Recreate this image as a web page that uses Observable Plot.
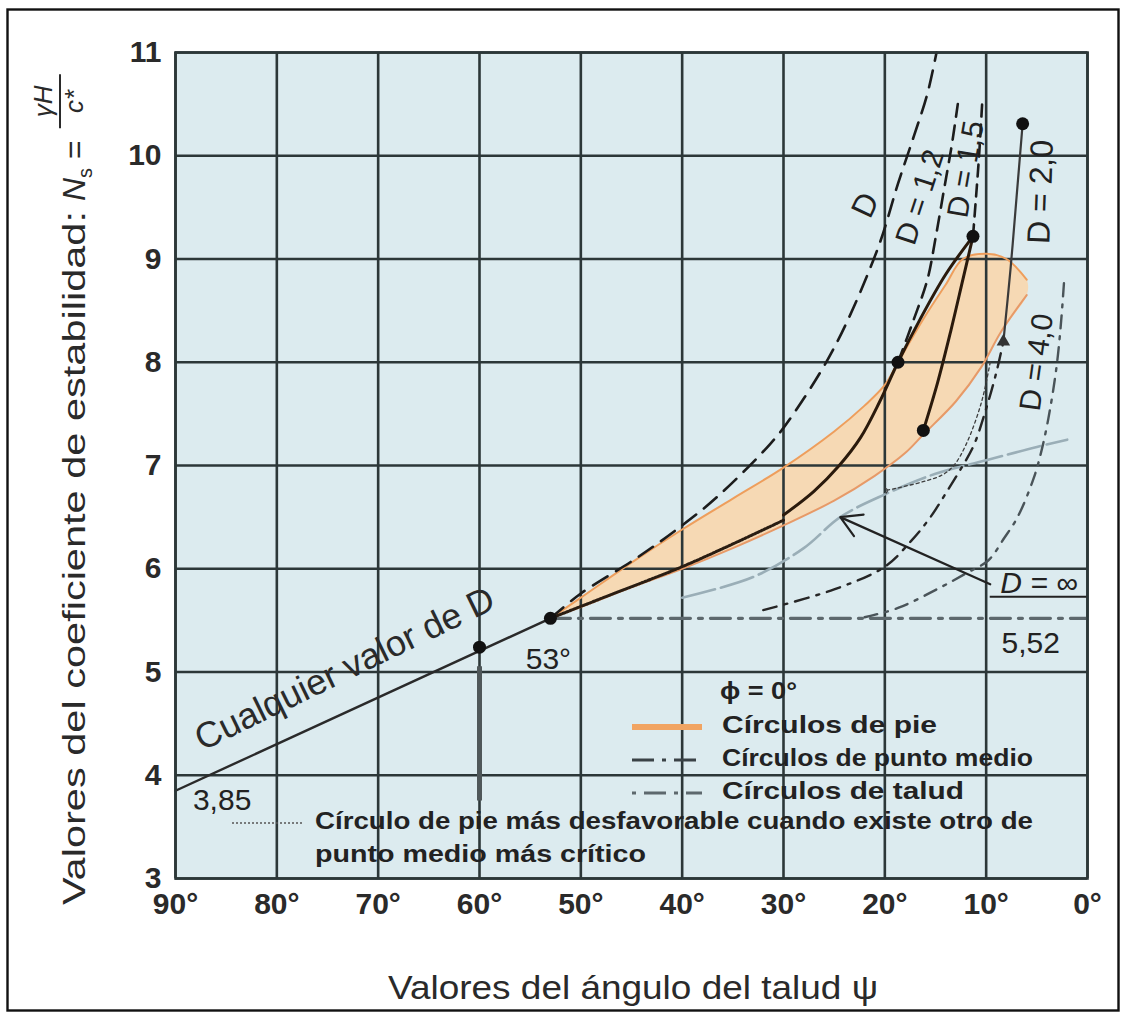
<!DOCTYPE html>
<html>
<head>
<meta charset="utf-8">
<script src="https://cdn.jsdelivr.net/npm/d3@7"></script>
<script src="https://cdn.jsdelivr.net/npm/@observablehq/plot@0.6"></script>
<style>
  body { margin: 0; background: #fff; }
  #chart { width: 1126px; height: 1015px; }
  svg text { font-family: "Liberation Sans", Arial, sans-serif; }
</style>
</head>
<body>
<div id="chart"></div>
<script>
// Taylor stability chart, phi = 0: stability number Ns against slope angle psi.
const xTicks = [90, 80, 70, 60, 50, 40, 30, 20, 10, 0];
const yTicks = [3, 4, 5, 6, 7, 8, 9, 10, 11];

// [slope angle (deg), Ns]
const anyDepth = [[90, 3.85], [53, 5.52]];
const toeUpper = [[53, 5.52], [50, 5.72], [45, 6.06], [40, 6.38], [35, 6.68], [30, 6.98], [25, 7.33], [22, 7.58], [20, 7.78], [18.7, 8.0], [16, 8.45], [14, 8.75], [12.3, 9.0], [10, 9.05], [8, 9.0], [6, 8.8]];
const toeLower = [[53, 5.52], [50, 5.63], [45, 5.82], [40, 6.0], [35, 6.2], [30, 6.42], [25, 6.66], [21, 6.9], [18, 7.12], [16.2, 7.3], [13, 7.62], [10.5, 7.95], [8.5, 8.3], [6, 8.65]];
const worstToe = [[53, 5.52], [47, 5.75], [40, 6.02], [35, 6.24], [30, 6.47]];
const toeArcA = [[30, 6.52], [27, 6.75], [24.5, 7.0], [22.4, 7.27], [20.5, 7.62], [18.7, 8.0], [16.5, 8.42], [14, 8.85], [11.3, 9.22]];
const toeArcB = [[16.2, 7.34], [14.8, 7.8], [13.5, 8.3], [12.3, 8.8], [11.3, 9.22]];
const slopeD10 = [[53, 5.52], [50, 5.76], [44.4, 6.11], [40, 6.42], [36.5, 6.7], [31.3, 7.21], [29.3, 7.46], [25, 8.14], [20.7, 9.1], [18.7, 9.73], [17.1, 10.2], [15.8, 10.6], [14.9, 11.0]];
const slopeD12 = [[18.7, 8.0], [17.2, 8.4], [15.8, 8.8], [15, 9.2], [14.2, 9.65], [13.4, 10.1], [12.8, 10.5]];
const slopeD15 = [[11.3, 9.22], [11.0, 9.6], [10.7, 10.0], [10.4, 10.5]];
const toeD20 = [[8.3, 8.2], [7.6, 8.9], [7.0, 9.6], [6.4, 10.31]];
const midD20 = [[32, 5.6], [25, 5.8], [20, 6.02], [17.4, 6.27], [15.5, 6.5], [13.8, 6.76], [12.3, 7.0], [11.2, 7.2], [10, 7.55], [9.0, 7.9], [8.3, 8.2]];
const midD40 = [[22, 5.53], [18.7, 5.62], [14.5, 5.82], [11.9, 5.96], [9.8, 6.08], [8.2, 6.3], [6.9, 6.5], [5.3, 6.88], [4.4, 7.2], [3.6, 7.6], [3.0, 8.0], [2.6, 8.4], [2.3, 8.8]];
const baseInf = [[53, 5.52], [0, 5.52]];
const slopeInf = [[40, 5.72], [33, 5.92], [28, 6.2], [24.4, 6.5], [20, 6.72], [15, 6.92], [10, 7.05], [5, 7.18], [2, 7.25]];
const worstToeLink = [[19.8, 6.76], [14.5, 6.9], [13.2, 7.0], [12, 7.2], [10.5, 7.6], [9.6, 8.0]];
const keyPoints = [[60, 5.24], [53, 5.52], [18.7, 8.0], [16.2, 7.34], [11.3, 9.22], [6.4, 10.31]];

const pts = (a) => a.map(([b, ns]) => ({b, ns}));
const toeBand = pts([...toeUpper, ...toeLower.slice().reverse()]);

const BG = "#dcebef";
const GRID = "#2c3738";
const INK = "#1c1c1c";
const FONT = "Liberation Sans, Arial, sans-serif";

const xy = {x: "b", y: "ns"};
const smooth = {...xy, curve: "catmull-rom"};

const plot = Plot.plot({
  width: 1126,
  height: 1015,
  marginLeft: 175,
  marginRight: 39,
  marginTop: 52,
  marginBottom: 137,
  x: {domain: [90, 0], label: null},
  y: {domain: [3, 11], label: null},
  style: {fontFamily: FONT, background: "transparent", overflow: "visible"},
  marks: [
    Plot.frame({fill: BG}),
    // toe-circle zone
    Plot.line(toeBand, {...xy, fill: "#f6d9b4", stroke: null, curve: "catmull-rom-closed"}),
    Plot.ruleX(xTicks, {stroke: GRID, strokeWidth: 2.6}),
    Plot.ruleY(yTicks, {stroke: GRID, strokeWidth: 2.6}),
    Plot.ruleX([60], {y1: 3.75, y2: 5.05, stroke: "#4f5759", strokeWidth: 5}),
    Plot.line(pts(toeUpper), {...smooth, stroke: "#ee9e5c", strokeWidth: 2}),
    Plot.line(pts(toeLower), {...smooth, stroke: "#e79a68", strokeWidth: 2}),
    // slope, midpoint and base curves
    Plot.line(pts(baseInf), {...xy, stroke: "#5d686d", strokeWidth: 3.2, strokeDasharray: "20,8,4,8"}),
    Plot.line(pts(slopeInf), {...smooth, stroke: "#9aaeb7", strokeWidth: 2.6, strokeDasharray: "34,6"}),
    Plot.line(pts(midD40), {...smooth, stroke: "#4a5459", strokeWidth: 2.4, strokeDasharray: "13,8,3,8"}),
    Plot.line(pts(midD20), {...smooth, stroke: "#262626", strokeWidth: 2.4, strokeDasharray: "14,8,3,8"}),
    Plot.line(pts(slopeD10), {...smooth, stroke: INK, strokeWidth: 2.6, strokeDasharray: "17,10"}),
    Plot.line(pts(slopeD12), {...smooth, stroke: INK, strokeWidth: 2.6, strokeDasharray: "14,9"}),
    Plot.line(pts(slopeD15), {...smooth, stroke: INK, strokeWidth: 2.6, strokeDasharray: "12,8"}),
    Plot.line(pts(worstToeLink), {...smooth, stroke: "#3d3d3d", strokeWidth: 1.3, strokeDasharray: "3,3", markerStart: "arrow"}),
    // toe circles
    Plot.line(pts(worstToe), {...smooth, stroke: "#2a1d12", strokeWidth: 3, strokeDasharray: "2,1.5"}),
    Plot.line(pts(toeArcA), {...smooth, stroke: "#2a1a0c", strokeWidth: 3}),
    Plot.line(pts(toeArcB), {...smooth, stroke: "#2a1a0c", strokeWidth: 3}),
    Plot.line(pts(toeD20), {...smooth, stroke: "#3a3a3a", strokeWidth: 2.2}),
    Plot.dot([{b: 8.3, ns: 8.2}], {...xy, symbol: "triangle", r: 5, fill: "#333"}),
    // any depth factor
    Plot.line(pts(anyDepth), {...xy, stroke: "#2a2a2a", strokeWidth: 2.4}),
    Plot.dot(pts(keyPoints), {...xy, r: 6.5, fill: "#111"}),
    Plot.arrow([0], {x1: 9.6, y1: 5.85, x2: 24.4, y2: 6.5, stroke: "#222", strokeWidth: 2.2, headLength: 16}),
    Plot.ruleY([5.73], {x1: 9.6, x2: 0, stroke: "#222", strokeWidth: 2}),
    // annotations
    Plot.text(["Cualquier valor de D"], {x: 73.3, y: 5.03, text: (d) => d, rotate: -26, fontSize: 36, fill: "#2a2a2a"}),
    Plot.text(["53°"], {x: 53.2, y: 5.12, text: (d) => d, fontSize: 30, fill: "#222"}),
    Plot.text(["3,85"], {x: 85.4, y: 3.76, text: (d) => d, fontSize: 30, fill: "#222"}),
    Plot.text(["5,52"], {x: 5.6, y: 5.28, text: (d) => d, fontSize: 30, fill: "#222"}),
    Plot.text(["D = ∞"], {x: 4.8, y: 5.86, text: (d) => d, fontSize: 30, fontStyle: "italic", fill: "#222"}),
    Plot.text(["D"], {x: 21.9, y: 9.52, text: (d) => d, rotate: -65, fontSize: 32, fill: "#222"}),
    Plot.text(["D = 1,2"], {x: 16.5, y: 9.6, text: (d) => d, rotate: -72, fontSize: 30, fill: "#222"}),
    Plot.text(["D = 1,5"], {x: 12, y: 9.87, text: (d) => d, rotate: -80, fontSize: 30, fill: "#222"}),
    Plot.text(["D = 2,0"], {x: 4.6, y: 9.65, text: (d) => d, rotate: -88, fontSize: 32, fill: "#222"}),
    Plot.text(["D = 4,0"], {x: 5.0, y: 8.0, text: (d) => d, rotate: -82, fontSize: 30, fill: "#222"}),
    Plot.frame({stroke: GRID, strokeWidth: 2.6}),
    Plot.axisX(xTicks, {tickSize: 0, tickPadding: 14, tickFormat: (d) => `${d}°`, fontSize: 30, fontWeight: "bold", fill: "#2a2a2a", label: null}),
    Plot.axisY(yTicks, {tickSize: 0, tickPadding: 14, tickFormat: (d) => String(d), fontSize: 30, fontWeight: "bold", fill: "#2a2a2a", label: null})
  ]
});

document.getElementById("chart").appendChild(plot);

// Axis titles, legend and outer border
const svg = d3.select(plot);

svg.append("rect")
  .attr("x", 7.5).attr("y", 9.5).attr("width", 1111).attr("height", 1001)
  .attr("fill", "none").attr("stroke", "#111").attr("stroke-width", 2.4);

svg.append("text")
  .attr("x", 388).attr("y", 990)
  .attr("text-anchor", "start").attr("dominant-baseline", "middle")
  .attr("font-size", 34).attr("fill", "#2a2a2a")
  .attr("textLength", 490).attr("lengthAdjust", "spacingAndGlyphs")
  .text("Valores del ángulo del talud ψ");

const yTitle = svg.append("g").attr("transform", "translate(85,905) rotate(-90)")
  .attr("fill", "#2a2a2a").attr("text-anchor", "start");
const mainLen = 694;
yTitle.append("text").attr("x", 0).attr("y", 0).attr("font-size", 32)
  .attr("textLength", mainLen).attr("lengthAdjust", "spacingAndGlyphs")
  .text("Valores del coeficiente de estabilidad:");
const ns = yTitle.append("text").attr("x", mainLen + 10).attr("y", 0).attr("font-size", 32);
ns.append("tspan").attr("font-style", "italic").text("N");
ns.append("tspan").attr("font-size", 20).attr("dy", 7).text("s");
ns.append("tspan").attr("dy", -7).text(" =");
const fracX = mainLen + 10 + ns.node().getComputedTextLength() + 12;
yTitle.append("line").attr("x1", fracX).attr("x2", fracX + 54).attr("y1", -25).attr("y2", -25)
  .attr("stroke", "#2a2a2a").attr("stroke-width", 2);
yTitle.append("text").attr("x", fracX + 27).attr("y", -33).attr("text-anchor", "middle")
  .attr("font-size", 26).attr("font-style", "italic").text("γH");
yTitle.append("text").attr("x", fracX + 27).attr("y", -2).attr("text-anchor", "middle")
  .attr("font-size", 26).attr("font-style", "italic").text("c*");

const legend = svg.append("g").attr("fill", "#222").attr("font-size", 23)
  .attr("font-weight", "bold").attr("text-anchor", "start");
const legendText = (x, y, label, len) => legend.append("text")
  .attr("x", x).attr("y", y).attr("dominant-baseline", "middle")
  .attr("textLength", len).attr("lengthAdjust", "spacingAndGlyphs").text(label);
legendText(720, 693, "ϕ = 0°", 77);
const rows = [
  {y: 727, label: "Círculos de pie", len: 215, stroke: "#f1a462", width: 6, dash: null},
  {y: 760, label: "Círculos de punto medio", len: 311, stroke: "#3a4246", width: 3, dash: "22,8,4,8"},
  {y: 793, label: "Círculos de talud", len: 242, stroke: "#5d686d", width: 3, dash: "4,8,22,8"}
];
for (const r of rows) {
  legend.append("line").attr("x1", 632).attr("x2", 702).attr("y1", r.y).attr("y2", r.y)
    .attr("stroke", r.stroke).attr("stroke-width", r.width).attr("stroke-dasharray", r.dash);
  legendText(722, r.y, r.label, r.len);
}
legend.append("line").attr("x1", 232).attr("x2", 302).attr("y1", 823).attr("y2", 823)
  .attr("stroke", "#555").attr("stroke-width", 1.6).attr("stroke-dasharray", "2,2");
legendText(315, 823, "Círculo de pie más desfavorable cuando existe otro de", 718);
legendText(315, 856, "punto medio más crítico", 331);
</script>
</body>
</html>
